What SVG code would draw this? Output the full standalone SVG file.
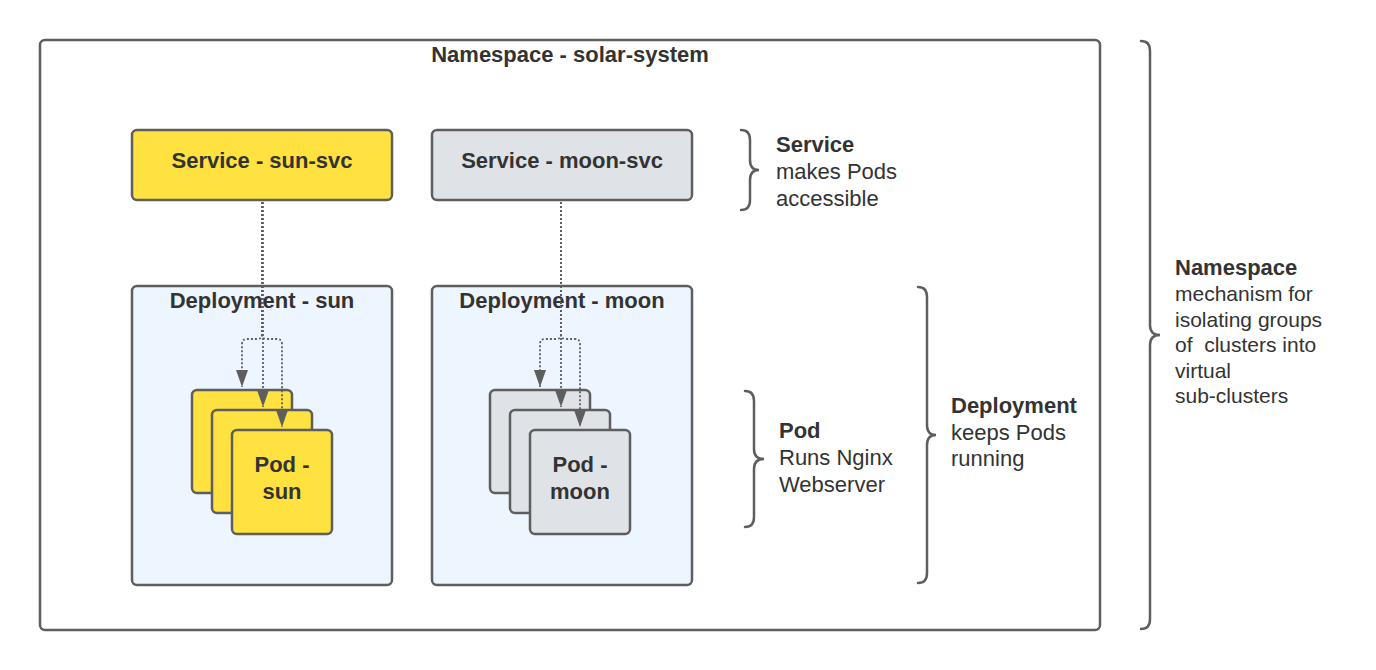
<svg xmlns="http://www.w3.org/2000/svg" width="1376" height="670" viewBox="0 0 1376 670">
<defs>
<style>
.box{stroke:#5e5e5e;stroke-width:2.5}
.sun{fill:#ffe13f}
.moon{fill:#dfe3e8}
.dep{fill:#edf5ff}
.t{font-family:"Liberation Sans",Arial,sans-serif;fill:#333333;font-size:22px}
.b{font-weight:bold}
.c{text-anchor:middle}
.brace{fill:none;stroke:#5e5e5e;stroke-width:2.5;stroke-linecap:round}
.conn{fill:none;stroke:#5e5e5e;stroke-width:1.8;stroke-dasharray:2 2}
</style>
<marker id="arr" markerUnits="userSpaceOnUse" markerWidth="17" markerHeight="13" refX="17" refY="6.5" orient="auto" viewBox="0 0 17 13">
<path d="M0,0.5 L17,6.5 L0,12.5 z" fill="#5e5e5e"/>
</marker>
</defs>
<rect width="1376" height="670" fill="#ffffff"/>

<g id="namespace">
<rect class="box" x="40" y="40" width="1060" height="590" rx="5" fill="#ffffff"/>
<text class="t b c" x="570" y="62">Namespace - solar-system</text>
</g>

<g id="svc-sun">
<rect class="box sun" x="132" y="130" width="260" height="70" rx="5"/>
<text class="t b c" x="262" y="168">Service - sun-svc</text>
</g>
<g id="svc-moon">
<rect class="box moon" x="432" y="130" width="260" height="70" rx="5"/>
<text class="t b c" x="562" y="168">Service - moon-svc</text>
</g>

<g id="dep-sun">
<rect class="box dep" x="132" y="286" width="260" height="299" rx="5"/>
<text class="t b c" x="262" y="308">Deployment - sun</text>
</g>
<g id="dep-moon">
<rect class="box dep" x="432" y="286" width="260" height="299" rx="5"/>
<text class="t b c" x="562" y="308">Deployment - moon</text>
</g>

<g id="pods-sun">
<rect class="box sun" x="192" y="390" width="100" height="103" rx="5"/>
<rect class="box sun" x="212" y="410" width="100" height="103" rx="5"/>
<rect class="box sun" x="232" y="430" width="100" height="104" rx="5"/>
<text class="t b c" x="282" y="472">Pod -</text>
<text class="t b c" x="282" y="499">sun</text>
</g>
<g id="pods-moon">
<rect class="box moon" x="490" y="390" width="100" height="103" rx="5"/>
<rect class="box moon" x="510" y="410" width="100" height="103" rx="5"/>
<rect class="box moon" x="530" y="430" width="100" height="104" rx="5"/>
<text class="t b c" x="580" y="472">Pod -</text>
<text class="t b c" x="580" y="499">moon</text>
</g>

<g id="connectors">
<path class="conn" marker-end="url(#arr)" d="M262,202 V334 Q262,339 257,339 H247 Q242,339 242,344 V387"/>
<path class="conn" marker-end="url(#arr)" d="M263,202 V407"/>
<path class="conn" marker-end="url(#arr)" d="M262,202 V334 Q262,339 267,339 H277 Q282,339 282,344 V427"/>
<path class="conn" marker-end="url(#arr)" d="M561,202 V334 Q561,339 556,339 H545 Q540,339 540,344 V387"/>
<path class="conn" marker-end="url(#arr)" d="M561,202 V407"/>
<path class="conn" marker-end="url(#arr)" d="M561,202 V334 Q561,339 566,339 H575 Q580,339 580,344 V427"/>
</g>

<g id="note-service">
<path class="brace" d="M741,130 C747,130 750,133 750,140 V160 C750,166 753,170 759,170 C753,170 750,174 750,180 V200 C750,207 747,210 741,210"/>
<text class="t b" x="776" y="152">Service</text>
<text class="t" x="776" y="179">makes Pods</text>
<text class="t" x="776" y="206">accessible</text>
</g>

<g id="note-pod">
<path class="brace" d="M745,391 C751,391 754,394 754,401 V449 C754,455 757,459 764,459 C757,459 754,463 754,469 V517 C754,524 751,527 745,527"/>
<text class="t b" x="779" y="438">Pod</text>
<text class="t" x="779" y="465">Runs Nginx</text>
<text class="t" x="779" y="492">Webserver</text>
</g>

<g id="note-deployment">
<path class="brace" d="M918,287 C924,287 927,290 927,297 V425 C927,431 930,435 936,435 C930,435 927,439 927,445 V573 C927,580 924,583 918,583"/>
<text class="t b" x="951" y="413">Deployment</text>
<text class="t" x="951" y="440">keeps Pods</text>
<text class="t" x="951" y="466">running</text>
</g>

<g id="note-namespace">
<path class="brace" d="M1141,41 C1147,41 1150,44 1150,51 V325 C1150,331 1153,335 1160,335 C1153,335 1150,339 1150,345 V619 C1150,626 1147,629 1141,629"/>
<text class="t b" x="1175" y="275">Namespace</text>
<text class="t" x="1175" y="301" style="font-size:21px">mechanism for</text>
<text class="t" x="1175" y="327" style="font-size:21px">isolating groups</text>
<text class="t" x="1175" y="352" style="font-size:21px;white-space:pre" xml:space="preserve">of  clusters into</text>
<text class="t" x="1175" y="378" style="font-size:21px">virtual</text>
<text class="t" x="1175" y="403" style="font-size:21px">sub-clusters</text>
</g>
</svg>
